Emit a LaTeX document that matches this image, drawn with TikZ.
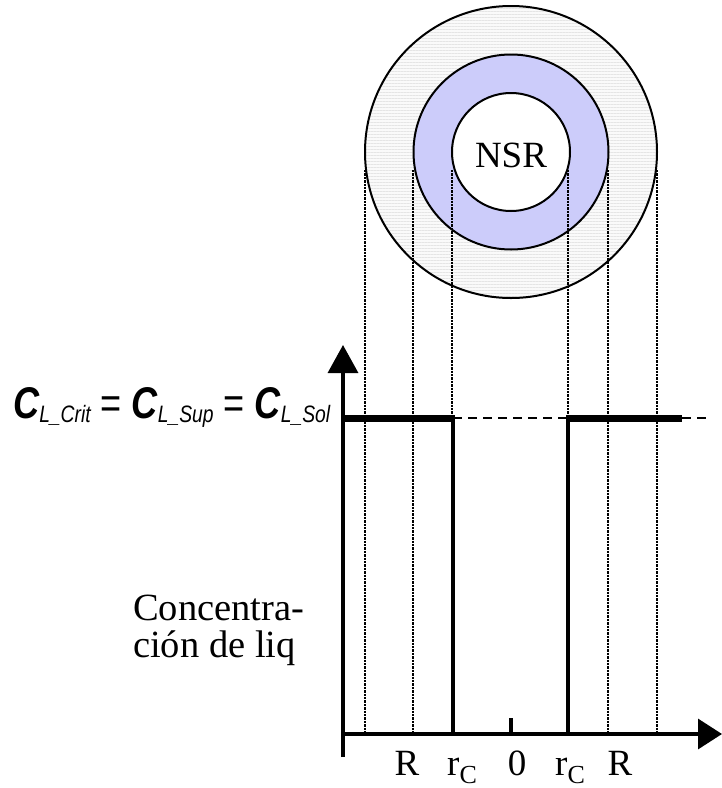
\documentclass[tikz,border=0pt]{standalone}
\usepackage{fontspec}
\setmainfont{Liberation Serif}
\newfontfamily\arialf{Liberation Sans}
\usetikzlibrary{arrows.meta,patterns.meta}
\definecolor{ringblue}{RGB}{204,204,250}
\newcommand\crsub[1]{{\bfseries\itshape C}\raisebox{-4pt}{\fontsize{23}{23}\selectfont\itshape #1}}
\tikzset{
  lbl/.style={inner sep=0pt,font=\fontsize{37}{37}\selectfont},
  sidetext/.style={inner sep=0pt,font=\fontsize{38.5}{38.5}\selectfont},
  guide/.style={line width=2.8pt,dash pattern=on 2.4pt off 1pt},
  thickprof/.style={line width=4.5pt},
  axis/.style={line width=3.3pt},
  ring/.style={line width=2pt},
  levelline/.style={line width=1.8pt,dash pattern=on 9pt off 6pt}
}
\begin{document}
\begin{tikzpicture}[x=1pt,y=-1pt]
\useasboundingbox (0,0) rectangle (722,788);
% circles
\coordinate (c0) at (511,152);
\fill[black!2] (c0) circle (146);
\fill[pattern={Lines[angle=0,distance=3pt,line width=0.6pt]},pattern color=black!10] (c0) circle (146);
\fill[ringblue] (c0) circle (97.5);
\fill[white] (c0) circle (59);
\draw[ring] (c0) circle (146);
\draw[ring] (c0) circle (97.5);
\draw[ring] (c0) circle (59);
\node[lbl,anchor=base] (nsr) at (511,167) {NSR};
% guides
\foreach \gx in {365,413,452,568,608,657}
  \draw[guide] (\gx,170) -- (\gx,733);
% dashed level
\coordinate (hl1) at (453,418);
\coordinate (hl2) at (568,418);
\coordinate (hl3) at (682,418);
\coordinate (hl4) at (706,418);
\draw[levelline] (hl1) -- (hl2);
\draw[levelline] (hl3) -- (hl4);
% profile
\draw[line width=7pt] (343,418) -- (455,418);
\draw[thickprof] (453,418) -- (453,734);
\draw[thickprof] (568,734) -- (568,418);
\draw[line width=7pt] (566,418) -- (hl3);
% axes
\coordinate (yb) at (343,757);
\coordinate (yt) at (343,345);
\coordinate (xl) at (343,734);
\coordinate (xr) at (722,734);
\draw[axis,-{Triangle[length=28pt,width=30pt]}] (yb) -- (yt);
\draw[axis,-{Triangle[length=24pt,width=30pt]}] (xl) -- (xr);
\draw[axis] (511,718) -- (511,734);
% axis labels
\node[lbl,anchor=base] (r1) at (407,775) {R};
\node[lbl,anchor=base west] (rc1) at (447,775) {r\raisebox{-8pt}{\fontsize{26}{26}\selectfont C}};
\node[lbl,anchor=base] (zero) at (517,775) {0};
\node[lbl,anchor=base west] (rc2) at (555,775) {r\raisebox{-8pt}{\fontsize{26}{26}\selectfont C}};
\node[lbl,anchor=base] (r2) at (620,775) {R};
% side text
\node[sidetext,anchor=base west] (t1) at (133,620) {Concentra-};
\node[sidetext,anchor=base west] (t2) at (133,657) {ción de liq};
% formula
\node[inner sep=0pt,anchor=base west] (form) at (13,418)
  {\resizebox{317pt}{31pt}{\arialf\fontsize{43}{43}\selectfont\crsub{L\_Crit}\;=\;\crsub{L\_Sup}\;=\;\crsub{L\_Sol}}};
\end{tikzpicture}
\end{document}
